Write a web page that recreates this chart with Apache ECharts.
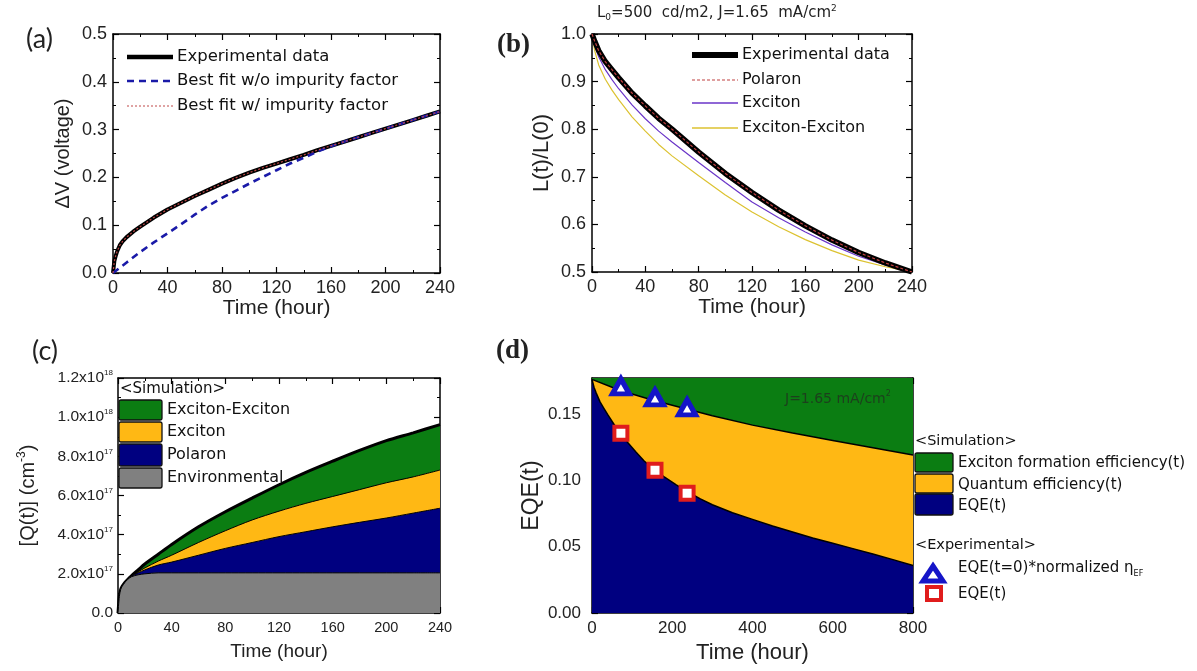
<!DOCTYPE html>
<html><head><meta charset="utf-8">
<script src="https://cdn.jsdelivr.net/npm/echarts@6/dist/echarts.min.js"></script>
<style>html,body{margin:0;padding:0;background:#fff}#c{width:1197px;height:671px}</style>
</head><body><div id="c"></div>
<script>
// ---------- Panel (a): voltage rise ----------
const timeA = [0,1,2,3,5,7,10,15,20,30,40,50,60,70,80,90,100,110,120,130,140,150,160,170,180,190,200,210,220,230,240];
const dvExperimental = [0,0.025,0.036,0.045,0.058,0.066,0.075,0.087,0.097,0.116,0.133,0.147,0.161,0.174,0.187,0.199,0.210,0.220,0.229,0.238,0.247,0.257,0.266,0.275,0.284,0.293,0.302,0.311,0.320,0.329,0.338];
const dvFitWithImpurity = [0,0.025,0.036,0.045,0.058,0.066,0.075,0.087,0.097,0.116,0.133,0.147,0.161,0.174,0.187,0.199,0.210,0.220,0.229,0.238,0.247,0.257,0.266,0.275,0.284,0.293,0.302,0.311,0.320,0.329,0.338];
const timeANoImp = [0,5,10,20,30,40,50,60,70,80,90,100,110,120,130,140,150,160,170,180,190,200,210,220,230,240];
const dvFitNoImpurity = [0,0.011,0.022,0.044,0.064,0.083,0.102,0.122,0.141,0.157,0.172,0.187,0.201,0.215,0.229,0.241,0.254,0.265,0.275,0.284,0.293,0.302,0.311,0.320,0.329,0.338];

// ---------- Panel (b): luminance decay ----------
const timeB = [0,2,5,10,15,20,30,40,50,60,80,100,120,140,160,180,200,220,240];
const lExperimental = [1.0,0.985,0.965,0.942,0.925,0.908,0.876,0.849,0.823,0.800,0.752,0.707,0.667,0.630,0.597,0.567,0.541,0.519,0.500];
const lPolaron = [1.0,0.985,0.965,0.942,0.925,0.908,0.876,0.849,0.823,0.800,0.752,0.707,0.667,0.630,0.597,0.567,0.541,0.519,0.500];
const lExciton = [1.0,0.975,0.952,0.925,0.904,0.885,0.851,0.822,0.796,0.773,0.730,0.688,0.647,0.614,0.584,0.557,0.533,0.515,0.500];
const lExcExc = [1.0,0.965,0.935,0.905,0.882,0.862,0.826,0.796,0.768,0.744,0.702,0.662,0.626,0.595,0.568,0.545,0.525,0.511,0.500];

// ---------- Panel (c): quencher density contributions, units of 1e17 cm^-3 ----------
const timeC = [0,1,2,3,5,7,10,15,20,30,40,60,80,100,120,140,160,180,200,220,240];
const qEnvironmental = [0,0.85,1.2,1.35,1.55,1.7,1.85,1.95,2.0,2.05,2.05,2.05,2.05,2.05,2.05,2.05,2.05,2.05,2.05,2.05,2.05];
const qPolaron = [0,0,0,0,0,0,0.02,0.10,0.20,0.40,0.55,0.90,1.25,1.55,1.85,2.10,2.35,2.58,2.80,3.05,3.30];
const qExciton = [0,0,0,0,0,0,0.01,0.05,0.10,0.20,0.35,0.65,0.90,1.15,1.30,1.45,1.55,1.67,1.80,1.85,1.95];
const qExcExc = [0,0,0,0,0,0,0.02,0.10,0.20,0.35,0.55,0.80,0.97,1.12,1.35,1.58,1.80,2.00,2.15,2.25,2.32];

// ---------- Panel (d): EQE ----------
const timeEF = [0,50,100,150,200,250,300,400,500,600,700,800];
const excitonFormation = [0.176,0.1700,0.1650,0.1605,0.1565,0.1525,0.1485,0.1415,0.1355,0.1300,0.1245,0.1190];
const timeEQE = [0,5,10,20,30,40,55,72,90,110,130,157,180,210,237,270,300,350,400,450,500,550,600,650,700,750,800];
const eqeSim = [0.176,0.170,0.166,0.159,0.154,0.149,0.142,0.135,0.128,0.121,0.1145,0.1075,0.1025,0.0965,0.0915,0.0860,0.0815,0.0755,0.0705,0.0655,0.061,0.0565,0.0525,0.0485,0.0445,0.0402,0.0358];
const timeExp = [72,157,237];
const eqeNormEF = [0.1707,0.1624,0.1549];
const eqeExp = [0.1353,0.1075,0.0902];

const pairs = (xs, ys) => xs.map((x, i) => [x, ys[i]]);
// cumulative sum of contribution arrays (stack table for panel c)
const cumulate = (...arrs) => arrs[0].map((_, i) => arrs.reduce((s, a) => s + a[i], 0));

const BLACK = '#000';
const GREEN = '#0b7d12', YELLOW = '#ffb814', NAVY = '#000080', GRAY = '#808080';

const xAxes = [], yAxes = [];
function addAxes(cfg) {
  const mk = (o, pos, showLabel) => ({
    type: 'value', gridIndex: cfg.grid, position: pos,
    min: o.min, max: o.max, interval: o.interval,
    axisLine: { show: true, onZero: false, lineStyle: { color: BLACK, width: 1.5 } },
    axisTick: { show: true, inside: true, length: 6, lineStyle: { color: BLACK, width: 1.2 } },
    minorTick: { show: true, splitNumber: 2, length: 3, lineStyle: { color: BLACK, width: 1 } },
    splitLine: { show: false },
    axisLabel: showLabel ? Object.assign({ show: true, color: '#222', fontFamily: 'Liberation Sans', fontSize: o.fontSize, margin: o.margin }, o.label || {}) : { show: false },
    name: showLabel ? o.name : '',
    nameLocation: 'middle', nameGap: o.nameGap,
    nameTextStyle: Object.assign({ color: '#222', fontFamily: 'Liberation Sans', fontSize: o.nameSize }, o.nameStyle || {})
  });
  xAxes.push(mk(cfg.x, 'bottom', true), mk(cfg.x, 'top', false));
  yAxes.push(mk(cfg.y, 'left', true), mk(cfg.y, 'right', false));
}

addAxes({ grid: 0,
  x: { min: 0, max: 240, interval: 40, fontSize: 18, margin: 6, name: 'Time (hour)', nameGap: 22, nameSize: 21 },
  y: { min: 0, max: 0.5, interval: 0.1, fontSize: 18, margin: 6, label: { formatter: v => v.toFixed(1) }, name: 'ΔV (voltage)', nameGap: 40, nameSize: 20 } });
addAxes({ grid: 1,
  x: { min: 0, max: 240, interval: 40, fontSize: 18, margin: 6, name: 'Time (hour)', nameGap: 23, nameSize: 21 },
  y: { min: 0.5, max: 1.0, interval: 0.1, fontSize: 18, margin: 6, label: { formatter: v => v.toFixed(1) }, name: 'L(t)/L(0)', nameGap: 39, nameSize: 22 } });
addAxes({ grid: 2,
  x: { min: 0, max: 240, interval: 40, fontSize: 14.5, margin: 7, name: 'Time (hour)', nameGap: 29, nameSize: 19 },
  y: { min: 0, max: 12, interval: 2, fontSize: 15, margin: 5,
       label: { formatter: v => v === 0 ? '{b|0.0}' : (v < 9.99 ? '{b|' + v.toFixed(1) + 'x10}{s|17}' : '{b|' + (v / 10).toFixed(1) + 'x10}{s|18}'),
                rich: { b: { fontSize: 15.5, fontFamily: 'Liberation Sans', color: '#222', lineHeight: 18 }, s: { fontSize: 8, fontFamily: 'Liberation Sans', color: '#222', verticalAlign: 'top' } } },
       name: '{n|[Q(t)] (cm}{s|-3}{n|)}', nameGap: 78, nameSize: 20,
       nameStyle: { rich: { n: { fontSize: 20, fontFamily: 'Liberation Sans', color: '#222', lineHeight: 24 }, s: { fontSize: 12, fontFamily: 'Liberation Sans', color: '#222', verticalAlign: 'top' } } } } });
addAxes({ grid: 3,
  x: { min: 0, max: 800, interval: 200, fontSize: 17, margin: 7, name: 'Time (hour)', nameGap: 29, nameSize: 22 },
  y: { min: 0, max: 0.177, interval: 0.05, fontSize: 17, margin: 11,
       label: { formatter: v => Math.abs(v / 0.05 - Math.round(v / 0.05)) < 1e-6 ? v.toFixed(2) : '' },
       name: 'EQE(t)', nameGap: 49, nameSize: 23 } });

const grids = [
  { left: 113, top: 34, width: 327, height: 239 },
  { left: 592, top: 34, width: 320, height: 238 },
  { left: 118, top: 378, width: 322, height: 235 },
  { left: 592, top: 378, width: 321, height: 235 }
].map(g => Object.assign({ containLabel: false, outerBoundsMode: 'none', show: false }, g));

const ax = g => ({ xAxisIndex: 2 * g, yAxisIndex: 2 * g });
const lineS = (g, data, style, z) => Object.assign({ type: 'line', data, showSymbol: false, symbol: 'none', smooth: false, lineStyle: style, z: z || 2, animation: false }, ax(g));

const series = [
  // (a)
  lineS(0, pairs(timeA, dvExperimental), { color: BLACK, width: 4 }, 2),
  lineS(0, pairs(timeANoImp, dvFitNoImpurity), { color: '#1a1aa8', width: 2.6, type: [7, 5] }, 3),
  lineS(0, pairs(timeA, dvFitWithImpurity), { color: '#c04848', width: 1.2, type: [2, 2] }, 4),
  // (b)
  lineS(1, pairs(timeB, lExcExc), { color: '#dcc230', width: 1.2 }, 2),
  lineS(1, pairs(timeB, lExciton), { color: '#6a35c8', width: 1.2 }, 2),
  lineS(1, pairs(timeB, lExperimental), { color: BLACK, width: 5.5 }, 3),
  lineS(1, pairs(timeB, lPolaron), { color: '#c04040', width: 1.2, type: [3, 2] }, 4)
];
// (c) cumulative areas, drawn from the top layer down so each lower layer covers the one above
const cTotal = cumulate(qEnvironmental, qPolaron, qExciton, qExcExc);
const cUpToExciton = cumulate(qEnvironmental, qPolaron, qExciton);
const cUpToPolaron = cumulate(qEnvironmental, qPolaron);
[[cTotal, GREEN, 3, 2], [cUpToExciton, YELLOW, 1, 3], [cUpToPolaron, NAVY, 1, 4], [qEnvironmental, GRAY, 1, 5]].forEach(([vals, col, w, z]) => {
  series.push(Object.assign(lineS(2, pairs(timeC, vals), { color: BLACK, width: w }, z), { smooth: 0.3, areaStyle: { color: col, opacity: 1, origin: 'start' } }));
});
// (d) areas bounded by the simulated curves
series.push(Object.assign(lineS(3, pairs(timeEF, excitonFormation), { color: BLACK, width: 0 }, 1), { areaStyle: { color: GREEN, opacity: 1, origin: 'end' } }));
series.push(Object.assign(lineS(3, pairs(timeEF, excitonFormation), { color: BLACK, width: 1.5 }, 2), { areaStyle: { color: YELLOW, opacity: 1, origin: 'start' } }));
series.push(Object.assign(lineS(3, pairs(timeEQE, eqeSim), { color: BLACK, width: 1.5 }, 3), { areaStyle: { color: NAVY, opacity: 1, origin: 'start' } }));
series.push(Object.assign({ type: 'scatter', data: pairs(timeExp, eqeNormEF), symbol: 'triangle', symbolSize: [17, 15], itemStyle: { color: '#fff', borderColor: '#1515c8', borderWidth: 5, opacity: 1 }, z: 5, animation: false }, ax(3)));
series.push(Object.assign({ type: 'scatter', data: pairs(timeExp, eqeExp), symbol: 'rect', symbolSize: 13, itemStyle: { color: '#fff', borderColor: '#e01c1c', borderWidth: 4, opacity: 1 }, z: 5, animation: false }, ax(3)));

// ---------- Text & legends ----------
const T = (x, y, text, o) => ({ type: 'text', x, y, z: 100, style: Object.assign({ text, fill: '#111', fontFamily: 'DejaVu Sans', fontSize: 16, verticalAlign: 'middle', align: 'left' }, o || {}) });
const L = (x1, y, x2, o) => ({ type: 'line', z: 100, shape: { x1, y1: y, x2, y2: y }, style: Object.assign({ stroke: BLACK, lineWidth: 1 }, o || {}) });
const R = (x, y, w, h, fill) => ({ type: 'rect', z: 100, shape: { x, y, width: w, height: h, r: 2 }, style: { fill, stroke: '#111', lineWidth: 1.3 } });

const graphics = [
  // panel labels
  T(26, 39, '(a)', { fontFamily: 'Lato', fontSize: 27, fill: '#222' }),
  T(497, 45, '(b)', { fontFamily: 'Liberation Serif', fontWeight: 'bold', fontSize: 27, fill: '#222' }),
  T(32, 351, '(c)', { fontFamily: 'Lato', fontSize: 27, fill: '#222' }),
  T(496, 351, '(d)', { fontFamily: 'Liberation Serif', fontWeight: 'bold', fontSize: 27, fill: '#222' }),
  // legend (a)
  L(127, 57, 173, { lineWidth: 4.5 }), T(177, 57, 'Experimental data', { fontSize: 16.5 }),
  L(127, 81, 173, { stroke: '#1a1aa8', lineWidth: 2.6, lineDash: [7, 5] }), T(177, 81, 'Best fit w/o impurity factor', { fontSize: 16.5 }),
  L(127, 106, 173, { stroke: '#c04848', lineWidth: 1.2, lineDash: [2, 2] }), T(177, 106, 'Best fit w/ impurity factor', { fontSize: 16.5 }),
  // title (b)
  T(597, 13, '{n|L}{sub|0}{n|=500  cd/m2, J=1.65  mA/cm}{sup|2}', { rich: {
      n: { fontFamily: 'DejaVu Sans', fontSize: 15, fill: '#222', lineHeight: 18 },
      sub: { fontFamily: 'DejaVu Sans', fontSize: 9, fill: '#222', verticalAlign: 'bottom' },
      sup: { fontFamily: 'DejaVu Sans', fontSize: 9, fill: '#222', verticalAlign: 'top' } } }),
  // legend (b)
  L(692, 55, 738, { lineWidth: 6 }), T(742, 55, 'Experimental data'),
  L(692, 80, 738, { stroke: '#c04040', lineWidth: 1.2, lineDash: [3, 2] }), T(742, 80, 'Polaron'),
  L(692, 103, 738, { stroke: '#6a35c8', lineWidth: 1.3 }), T(742, 103, 'Exciton'),
  L(692, 128, 738, { stroke: '#dcc230', lineWidth: 1.3 }), T(742, 128, 'Exciton-Exciton'),
  // legend (c)
  T(120, 389, '<Simulation>', { fontSize: 15 }),
  R(119, 400, 43, 20, GREEN), T(167, 410, 'Exciton-Exciton'),
  R(119, 422, 43, 20, YELLOW), T(167, 432, 'Exciton'),
  R(119, 444, 43, 22, NAVY), T(167, 455, 'Polaron'),
  R(119, 468, 43, 20, GRAY), T(167, 478, 'Environmental'),
  // inner text (d)
  T(785, 399, '{n|J=1.65 mA/cm}{sup|2}', { rich: {
      n: { fontFamily: 'DejaVu Sans', fontSize: 14, fill: '#1d3f1d', lineHeight: 18 },
      sup: { fontFamily: 'DejaVu Sans', fontSize: 8, fill: '#1d3f1d', verticalAlign: 'top' } } }),
  // legend (d)
  T(915, 441, '<Simulation>', { fontSize: 14.5 }),
  R(915, 453, 38, 19, GREEN), T(958, 463, 'Exciton formation efficiency(t)', { fontSize: 15 }),
  R(915, 474, 38, 19, YELLOW), T(958, 485, 'Quantum efficiency(t)', { fontSize: 15 }),
  R(915, 494, 38, 21, NAVY), T(958, 506, 'EQE(t)', { fontSize: 15 }),
  T(915, 545, '<Experimental>', { fontSize: 14.5 }),
  { type: 'polygon', z: 100, shape: { points: [[933, 566], [943, 581], [923, 581]] }, style: { fill: '#fff', stroke: '#1515c8', lineWidth: 5 } },
  T(958, 568, '{n|EQE(t=0)*normalized η}{sub|EF}', { rich: {
      n: { fontFamily: 'DejaVu Sans', fontSize: 15, fill: '#111', lineHeight: 20 },
      sub: { fontFamily: 'DejaVu Sans', fontSize: 8, fill: '#111', verticalAlign: 'bottom' } } }),
  { type: 'rect', z: 100, shape: { x: 927, y: 587, width: 14, height: 13 }, style: { fill: '#fff', stroke: '#e01c1c', lineWidth: 4 } },
  T(958, 594, 'EQE(t)', { fontSize: 15 })
];

const chart = echarts.init(document.getElementById('c'), null, { renderer: 'canvas' });
chart.setOption({
  animation: false,
  backgroundColor: '#fff',
  grid: grids,
  xAxis: xAxes,
  yAxis: yAxes,
  series,
  graphic: graphics
});
</script></body></html>
